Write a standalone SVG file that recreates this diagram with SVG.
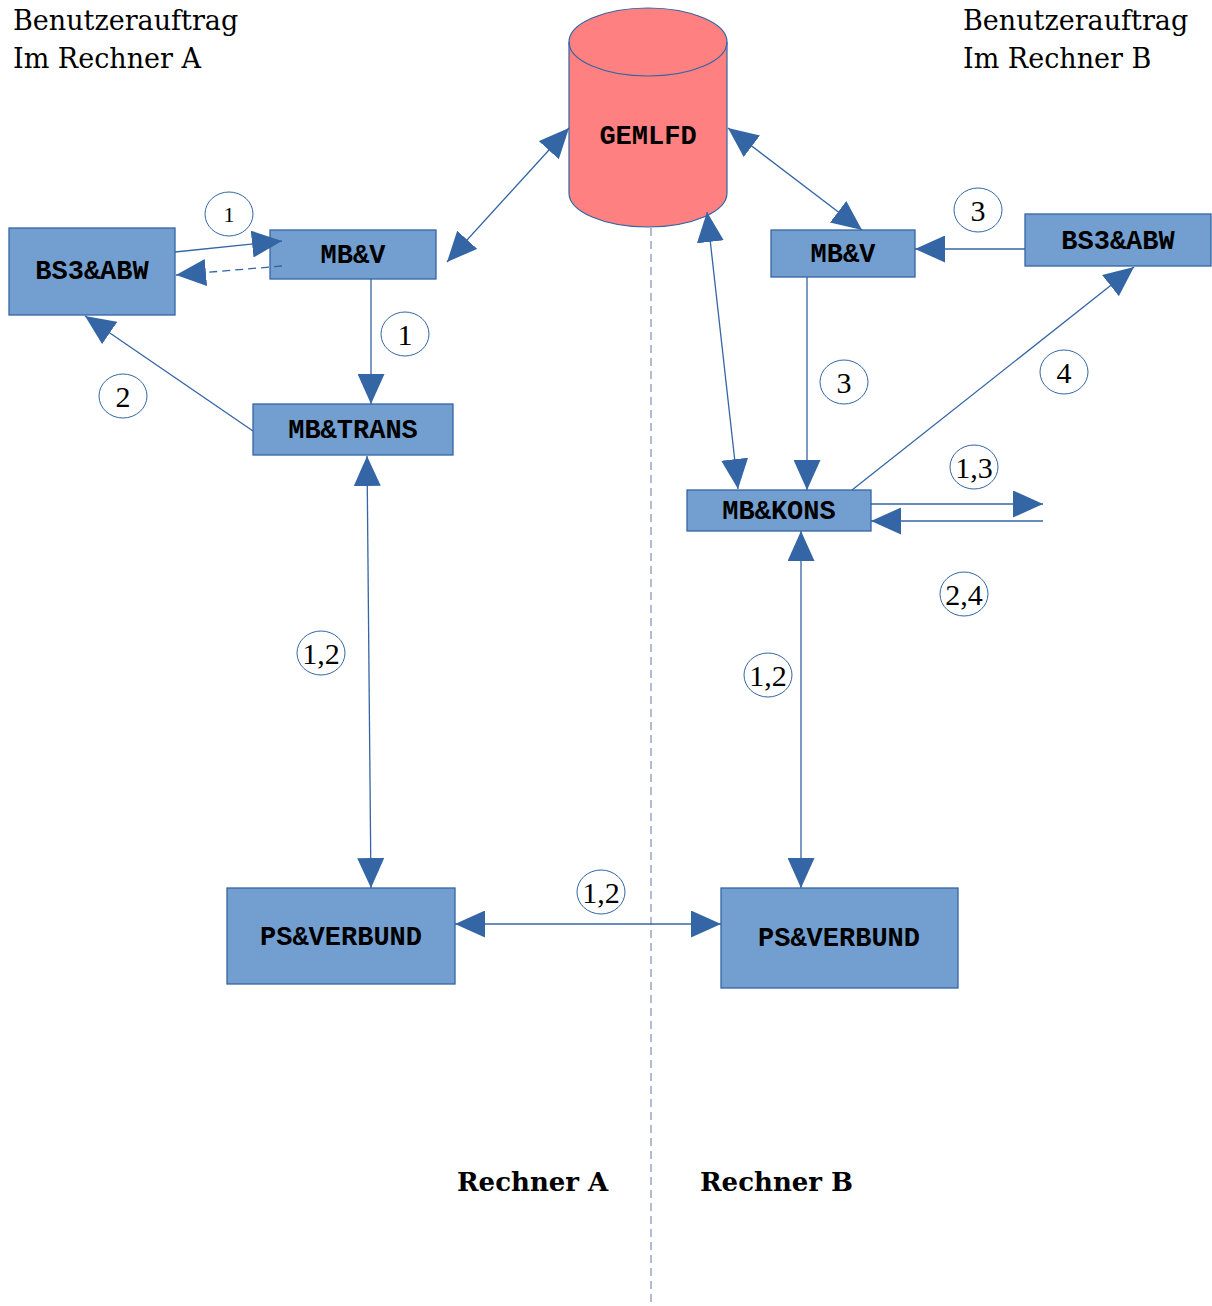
<svg xmlns="http://www.w3.org/2000/svg" width="1212" height="1306" viewBox="0 0 1212 1306">
<style>
.box{fill:#729fcf;stroke:#3465a4;stroke-width:1.3}
.bt{font-family:"Liberation Mono",monospace;font-weight:bold;font-size:27px;fill:#000;text-anchor:middle;dominant-baseline:central}
.ln{stroke:#3465a4;stroke-width:1.3;fill:none}
.lab{fill:#fff;stroke:#3465a4;stroke-width:1}
.lt{font-family:"Liberation Serif",serif;font-size:30px;fill:#000;text-anchor:middle;dominant-baseline:central}
.hd{font-family:"DejaVu Serif",serif;font-size:27px;fill:#000}
.rb{font-family:"DejaVu Serif",serif;font-weight:bold;font-size:26px;fill:#000}
</style>
<defs>
<marker id="ah" viewBox="0 0 30 27" refX="30" refY="13.5" markerWidth="30" markerHeight="27" markerUnits="userSpaceOnUse" orient="auto-start-reverse">
<path d="M0,0 L30,13.5 L0,27 Z" fill="#3465a4"/>
</marker>
</defs>
<rect width="1212" height="1306" fill="#fff"/>
<line x1="651" y1="228" x2="651" y2="1306" stroke="#7a8fb5" stroke-width="1.2" stroke-dasharray="8,5"/>
<g id="headings">
<text class="hd" x="13" y="30">Benutzerauftrag</text>
<text class="hd" x="13" y="68">Im Rechner A</text>
<text class="hd" x="963" y="30">Benutzerauftrag</text>
<text class="hd" x="963" y="68">Im Rechner B</text>
<text class="rb" x="457" y="1191">Rechner A</text>
<text class="rb" x="700" y="1191">Rechner B</text>
</g>
<g id="gemlfd">
<path d="M569,42 L569,193 A79,34 0 0 0 727,193 L727,42 A79,34 0 0 0 569,42 Z" fill="#ff8080" stroke="#3465a4" stroke-width="1.2"/>
<path d="M569,42 A79,34 0 0 0 727,42" fill="none" stroke="#3465a4" stroke-width="1.2"/>
<text class="bt" x="648" y="137">GEMLFD</text>
</g>
<g id="bs3abw-a"><rect class="box" x="9" y="228" width="166" height="87"/><text class="bt" x="92" y="272">BS3&amp;ABW</text></g>
<g id="mbv-a"><rect class="box" x="270" y="230" width="166" height="49"/><text class="bt" x="353" y="256">MB&amp;V</text></g>
<g id="mbtrans"><rect class="box" x="253" y="404" width="200" height="51"/><text class="bt" x="353" y="431">MB&amp;TRANS</text></g>
<g id="psverbund-a"><rect class="box" x="227" y="888" width="228" height="96"/><text class="bt" x="341" y="938">PS&amp;VERBUND</text></g>
<g id="psverbund-b"><rect class="box" x="721" y="888" width="237" height="100"/><text class="bt" x="839" y="939">PS&amp;VERBUND</text></g>
<g id="mbv-b"><rect class="box" x="771" y="230" width="144" height="47"/><text class="bt" x="843" y="255">MB&amp;V</text></g>
<g id="bs3abw-b"><rect class="box" x="1025" y="214" width="186" height="52"/><text class="bt" x="1118" y="242">BS3&amp;ABW</text></g>
<g id="mbkons"><rect class="box" x="687" y="490" width="184" height="41"/><text class="bt" x="779" y="512">MB&amp;KONS</text></g>
<g id="connectors">
<line class="ln" x1="175" y1="252" x2="282" y2="241" marker-end="url(#ah)"/>
<line class="ln" x1="282" y1="266" x2="176" y2="275" stroke-dasharray="8,5" marker-end="url(#ah)"/>
<line class="ln" x1="371" y1="279" x2="371" y2="404" marker-end="url(#ah)"/>
<line class="ln" x1="253" y1="431" x2="85" y2="316" marker-end="url(#ah)"/>
<line class="ln" x1="367" y1="456" x2="371" y2="888" marker-start="url(#ah)" marker-end="url(#ah)"/>
<line class="ln" x1="455" y1="924" x2="721" y2="924" marker-start="url(#ah)" marker-end="url(#ah)"/>
<line class="ln" x1="569" y1="128" x2="447" y2="262" marker-start="url(#ah)" marker-end="url(#ah)"/>
<line class="ln" x1="728" y1="128" x2="862" y2="230" marker-start="url(#ah)" marker-end="url(#ah)"/>
<line class="ln" x1="707" y1="212" x2="738" y2="489" marker-start="url(#ah)" marker-end="url(#ah)"/>
<line class="ln" x1="807" y1="277" x2="807" y2="490" marker-end="url(#ah)"/>
<line class="ln" x1="1025" y1="249" x2="915" y2="249" marker-end="url(#ah)"/>
<line class="ln" x1="852" y1="490" x2="1134" y2="267" marker-end="url(#ah)"/>
<line class="ln" x1="871" y1="504" x2="1043" y2="504" marker-end="url(#ah)"/>
<line class="ln" x1="1043" y1="521" x2="871" y2="521" marker-end="url(#ah)"/>
<line class="ln" x1="801" y1="531" x2="801" y2="888" marker-start="url(#ah)" marker-end="url(#ah)"/>
</g>
<g id="labels">
<ellipse class="lab" cx="229" cy="214" rx="24" ry="22"/><text class="lt" x="229" y="214" style="font-size:22px">1</text>
<ellipse class="lab" cx="405" cy="334" rx="24" ry="22"/><text class="lt" x="405" y="334">1</text>
<ellipse class="lab" cx="123" cy="396" rx="24" ry="22"/><text class="lt" x="123" y="396">2</text>
<ellipse class="lab" cx="321" cy="653" rx="24" ry="22"/><text class="lt" x="321" y="653">1,2</text>
<ellipse class="lab" cx="601" cy="892" rx="24" ry="22"/><text class="lt" x="601" y="892">1,2</text>
<ellipse class="lab" cx="768" cy="675" rx="24" ry="22"/><text class="lt" x="768" y="675">1,2</text>
<ellipse class="lab" cx="978" cy="210" rx="24" ry="22"/><text class="lt" x="978" y="210">3</text>
<ellipse class="lab" cx="844" cy="382" rx="24" ry="22"/><text class="lt" x="844" y="382">3</text>
<ellipse class="lab" cx="1064" cy="372" rx="24" ry="22"/><text class="lt" x="1064" y="372">4</text>
<ellipse class="lab" cx="974" cy="467" rx="24" ry="22"/><text class="lt" x="974" y="467">1,3</text>
<ellipse class="lab" cx="964" cy="594" rx="24" ry="22"/><text class="lt" x="964" y="594">2,4</text>
</g>
</svg>
